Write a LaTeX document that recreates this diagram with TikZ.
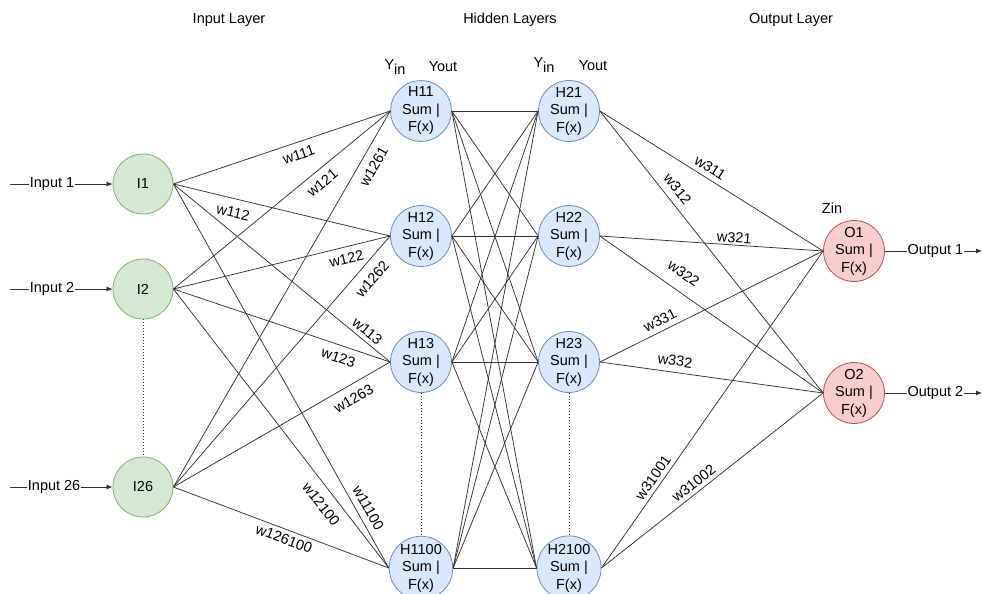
\documentclass[tikz,border=0pt]{standalone}
\usepackage{fontspec}
\setmainfont{Liberation Sans}
\usetikzlibrary{arrows.meta}
\definecolor{gfill}{HTML}{D5E8D4}
\definecolor{gline}{HTML}{82B366}
\definecolor{bfill}{HTML}{DAE8FC}
\definecolor{bline}{HTML}{6C8EBF}
\definecolor{rfill}{HTML}{F8CECC}
\definecolor{rline}{HTML}{B85450}
\begin{document}
\begin{tikzpicture}[x=1pt,y=-1pt,
  neuron/.style={circle, minimum size=60pt, inner sep=0pt, line width=0.8pt, align=center, font=\fontsize{14.5}{17.5}\selectfont},
  inp/.style={neuron, fill=gfill, draw=gline},
  hid/.style={neuron, fill=bfill, draw=bline},
  outn/.style={neuron, fill=rfill, draw=rline},
  conn/.style={draw=black!80, line width=0.75pt},
  arr/.style={conn, -{Latex[length=6pt,width=5pt]}},
  dots/.style={draw=black!80, line width=1pt, dotted},
  wl/.style={sloped, font=\fontsize{14.5}{15}\selectfont, inner sep=1pt, fill=white},
  io/.style={font=\fontsize{14.5}{15}\selectfont, inner sep=1pt, fill=white},
  title/.style={font=\fontsize{14.5}{15}\selectfont, inner sep=0pt}
]
\useasboundingbox (0,0) rectangle (983,594);
\clip (0,0) rectangle (983,594);

% titles
\node[title] (t1) at (229,20) {Input Layer};
\node[title] (t2) at (510,20) {Hidden Layers};
\node[title] (t3) at (791,20) {Output Layer};
\node[title] (y1) at (395,67) {Y\raisebox{-4.5pt}{in}};
\node[title] (yo1) at (443,67) {Yout};
\node[title] (y2) at (544,65) {Y\raisebox{-4.5pt}{in}};
\node[title] (yo2) at (593,66) {Yout};
\node[title] (zin) at (832,208) {Zin};

% neurons
\node[inp] (I1) at (143,184) {I1};
\node[inp] (I2) at (143,289) {I2};
\node[inp] (I26) at (143,487) {I26};

\node[hid] (H11) at (421,111) {H11\\Sum |\\F(x)};
\node[hid] (H12) at (421,236) {H12\\Sum |\\F(x)};
\node[hid] (H13) at (421,362) {H13\\Sum |\\F(x)};
\node[hid] (H1100) at (421,568) {H1100\\Sum |\\F(x)};

\node[hid] (H21) at (569,111) {H21\\Sum |\\F(x)};
\node[hid] (H22) at (569,236) {H22\\Sum |\\F(x)};
\node[hid] (H23) at (569,362) {H23\\Sum |\\F(x)};
\node[hid] (H2100) at (569,568) {H2100\\Sum |\\F(x)};

\node[outn] (O1) at (854,251) {O1\\Sum |\\F(x)};
\node[outn] (O2) at (854,393) {O2\\Sum |\\F(x)};

% dotted
\draw[dots] (I2.south) -- (I26.north);
\draw[dots] (H13.south) -- (H1100.north);
\draw[dots] (H23.south) -- (H2100.north);

% input arrows
\coordinate (s1) at (10,184);
\coordinate (s2) at (10,289);
\coordinate (s26) at (10,487);
\draw[arr] (s1) -- node[io, pos=0.41]{Input 1} (I1.west);
\draw[arr] (s2) -- node[io, pos=0.41]{Input 2} (I2.west);
\draw[arr] (s26) -- node[io, pos=0.43]{Input 26} (I26.west);

% output arrows
\coordinate (e1) at (982,251);
\coordinate (e2) at (982,393);
\draw[arr] (O1.east) -- node[io, pos=0.52]{Output 1} (e1);
\draw[arr] (O2.east) -- node[io, pos=0.52]{Output 2} (e2);

% input -> hidden 1
\draw[conn] (I1.east) -- node[wl, pos=0.56, below=6pt]{w111} (H11.west);
\draw[conn] (I2.east) -- node[wl, pos=0.65, below=6pt]{w121} (H11.west);
\draw[conn] (I26.east) -- node[wl, pos=0.87, below=7pt]{w1261} (H11.west);
\draw[conn] (I1.east) -- node[wl, pos=0.29, below=7pt]{w112} (H12.west);
\draw[conn] (I2.east) -- node[wl, pos=0.786, below=5pt]{w122} (H12.west);
\draw[conn] (I26.east) -- node[wl, pos=0.867, below=8pt]{w1262} (H12.west);
\draw[conn] (I1.east) -- node[wl, pos=0.867, above=3pt]{w113} (H13.west);
\draw[conn] (I2.east) -- node[wl, pos=0.78, below=6pt]{w123} (H13.west);
\draw[conn] (I26.east) -- node[wl, pos=0.80, below=7pt]{w1263} (H13.west);
\draw[conn] (I1.east) -- node[wl, pos=0.858, above=5pt]{w11100} (H1100.west);
\draw[conn] (I2.east) -- node[wl, pos=0.739, below=8pt]{w12100} (H1100.west);
\draw[conn] (I26.east) -- node[wl, pos=0.529, below=3pt]{w126100} (H1100.west);

% hidden 1 -> hidden 2
\foreach \a in {H11,H12,H13,H1100}{
  \foreach \b in {H21,H22,H23,H2100}{
    \draw[conn] (\a.east) -- (\b.west);
  }
}

% hidden 2 -> output
\draw[conn] (H21.east) -- node[wl, pos=0.469, above=4pt]{w311} (O1.west);
\draw[conn] (H21.east) -- node[wl, pos=0.304, above=6pt]{w312} (O2.west);
\draw[conn] (H22.east) -- node[wl, pos=0.60, above=1pt]{w321} (O1.west);
\draw[conn] (H22.east) -- node[wl, pos=0.33, above=11pt]{w322} (O2.west);
\draw[conn] (H23.east) -- node[wl, pos=0.29, above=4pt]{w331} (O1.west);
\draw[conn] (H23.east) -- node[wl, pos=0.33, above=5pt]{w332} (O2.west);
\draw[conn] (H2100.east) -- node[wl, pos=0.268, above=3pt]{w31001} (O1.west);
\draw[conn] (H2100.east) -- node[wl, pos=0.443, above=3pt]{w31002} (O2.west);
\end{tikzpicture}
\end{document}
